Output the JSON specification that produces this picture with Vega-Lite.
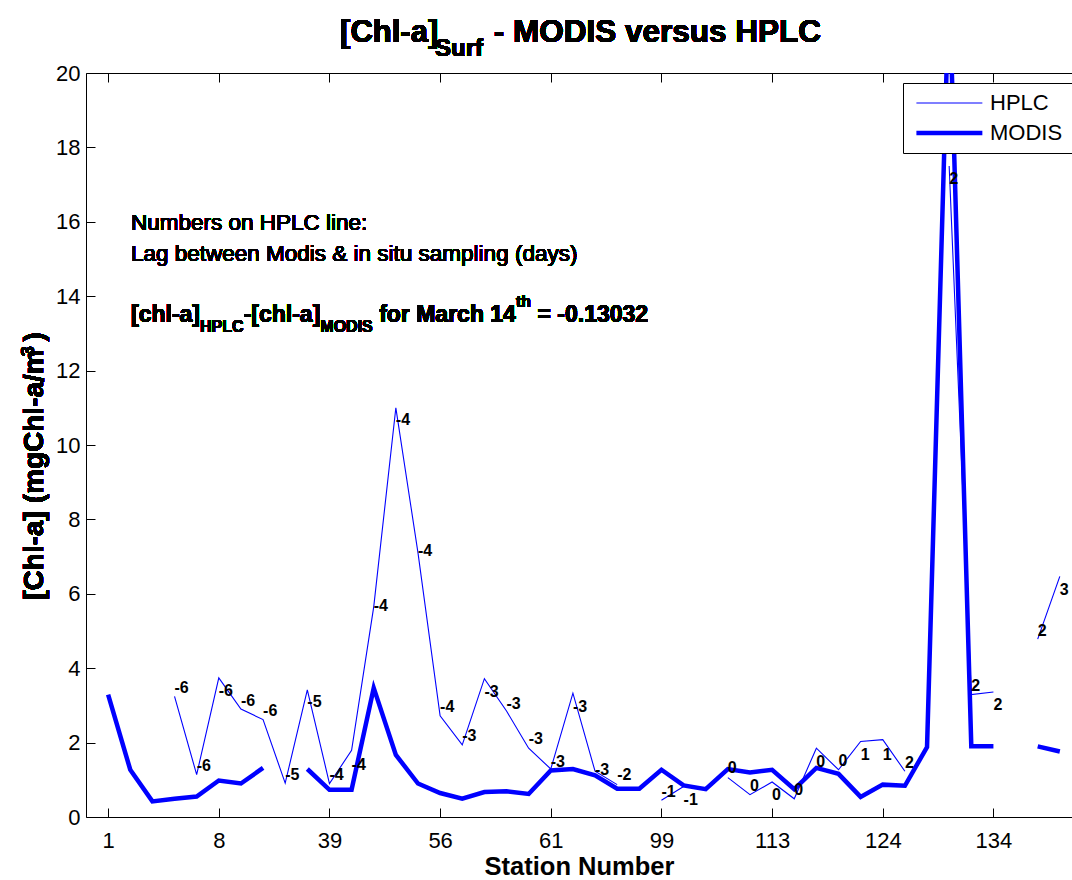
{
  "$schema": "https://vega.github.io/schema/vega-lite/v6.json",
  "width": 986,
  "height": 744,
  "autosize": {"type": "none"},
  "padding": {"left": 86, "top": 73, "right": 0, "bottom": 63},
  "background": "white",
  "config": {
    "font": "Liberation Sans",
    "view": {"stroke": null},
    "axis": {"grid": false, "domainColor": "black", "tickColor": "black", "labelColor": "black", "titleColor": "black", "labelFont": "Liberation Sans", "titleFont": "Liberation Sans"}
  },
  "resolve": {"axis": {"x": "independent", "y": "independent"}},
  "data": {
    "values": [
      {"i": 1, "HPLC": null, "MODIS": 3.29, "lag": null, "ly": null},
      {"i": 2, "HPLC": null, "MODIS": 1.27, "lag": null, "ly": null},
      {"i": 3, "HPLC": null, "MODIS": 0.42, "lag": null, "ly": null},
      {"i": 4, "HPLC": 3.24, "MODIS": 0.49, "lag": "-6", "ly": 3.47},
      {"i": 5, "HPLC": 1.14, "MODIS": 0.55, "lag": "-6", "ly": 1.38},
      {"i": 6, "HPLC": 3.74, "MODIS": 0.98, "lag": "-6", "ly": 3.38},
      {"i": 7, "HPLC": 2.90, "MODIS": 0.90, "lag": "-6", "ly": 3.13},
      {"i": 8, "HPLC": 2.62, "MODIS": 1.32, "lag": "-6", "ly": 2.86},
      {"i": 9, "HPLC": 0.91, "MODIS": null, "lag": "-5", "ly": 1.14},
      {"i": 10, "HPLC": 3.42, "MODIS": 1.29, "lag": "-5", "ly": 3.08},
      {"i": 11, "HPLC": 0.90, "MODIS": 0.73, "lag": "-4", "ly": 1.12},
      {"i": 12, "HPLC": 1.79, "MODIS": 0.73, "lag": "-4", "ly": 1.41},
      {"i": 13, "HPLC": 5.65, "MODIS": 3.47, "lag": "-4", "ly": 5.66},
      {"i": 14, "HPLC": 11.0, "MODIS": 1.67, "lag": "-4", "ly": 10.66},
      {"i": 15, "HPLC": 7.1, "MODIS": 0.90, "lag": "-4", "ly": 7.14},
      {"i": 16, "HPLC": 2.72, "MODIS": 0.645, "lag": "-4", "ly": 2.96},
      {"i": 17, "HPLC": 1.94, "MODIS": 0.49, "lag": "-3", "ly": 2.17},
      {"i": 18, "HPLC": 3.72, "MODIS": 0.67, "lag": "-3", "ly": 3.36},
      {"i": 19, "HPLC": 2.85, "MODIS": 0.69, "lag": "-3", "ly": 3.05},
      {"i": 20, "HPLC": 1.85, "MODIS": 0.62, "lag": "-3", "ly": 2.10},
      {"i": 21, "HPLC": 1.29, "MODIS": 1.25, "lag": "-3", "ly": 1.48},
      {"i": 22, "HPLC": 3.33, "MODIS": 1.29, "lag": "-3", "ly": 2.97},
      {"i": 23, "HPLC": 1.23, "MODIS": 1.12, "lag": "-3", "ly": 1.27},
      {"i": 24, "HPLC": 0.87, "MODIS": 0.76, "lag": "-2", "ly": 1.12},
      {"i": 25, "HPLC": null, "MODIS": 0.76, "lag": null, "ly": null},
      {"i": 26, "HPLC": 0.45, "MODIS": 1.27, "lag": "-1", "ly": 0.67},
      {"i": 27, "HPLC": 0.82, "MODIS": 0.85, "lag": "-1", "ly": 0.45},
      {"i": 28, "HPLC": null, "MODIS": 0.75, "lag": null, "ly": null},
      {"i": 29, "HPLC": 1.06, "MODIS": 1.29, "lag": "0", "ly": 1.32},
      {"i": 30, "HPLC": 0.60, "MODIS": 1.20, "lag": "0", "ly": 0.82},
      {"i": 31, "HPLC": 0.94, "MODIS": 1.27, "lag": "0", "ly": 0.58},
      {"i": 32, "HPLC": 0.49, "MODIS": 0.75, "lag": "0", "ly": 0.72},
      {"i": 33, "HPLC": 1.85, "MODIS": 1.32, "lag": "0", "ly": 1.48},
      {"i": 34, "HPLC": 1.27, "MODIS": 1.16, "lag": "0", "ly": 1.51},
      {"i": 35, "HPLC": 2.03, "MODIS": 0.54, "lag": "1", "ly": 1.66},
      {"i": 36, "HPLC": 2.08, "MODIS": 0.87, "lag": "1", "ly": 1.67},
      {"i": 37, "HPLC": 1.23, "MODIS": 0.84, "lag": "2", "ly": 1.45},
      {"i": 38, "HPLC": null, "MODIS": 1.88, "lag": null, "ly": null},
      {"i": 39, "HPLC": 17.5, "MODIS": 22.5, "lag": "2", "ly": 17.16},
      {"i": 40, "HPLC": 3.29, "MODIS": 1.90, "lag": "2", "ly": 3.53},
      {"i": 41, "HPLC": 3.36, "MODIS": 1.90, "lag": "2", "ly": 3.0},
      {"i": 42, "HPLC": null, "MODIS": null, "lag": null, "ly": null},
      {"i": 43, "HPLC": 4.78, "MODIS": 1.90, "lag": "2", "ly": 5.01},
      {"i": 44, "HPLC": 6.47, "MODIS": 1.76, "lag": "3", "ly": 6.11}
    ]
  },
  "layer": [
    {
      "transform": [{"fold": ["HPLC", "MODIS"], "as": ["series", "value"]}],
      "mark": {"type": "line", "color": "#0000ff", "clip": true},
      "encoding": {
        "x": {
          "field": "i", "type": "quantitative",
          "scale": {"domain": [0, 44.55], "nice": false, "zero": false},
          "axis": {
            "orient": "bottom", "values": [1, 6, 11, 16, 21, 26, 31, 36, 41],
            "labelExpr": "['1','8','39','56','61','99','113','124','134'][(datum.value-1)/5]",
            "tickSize": -9, "labelPadding": 22, "labelFontSize": 22, "labelFlush": false,
            "title": "Station Number", "titleFontSize": 25.5, "titleFontWeight": "bold", "titlePadding": 3
          }
        },
        "y": {
          "field": "value", "type": "quantitative",
          "scale": {"domain": [0, 20], "nice": false},
          "axis": {
            "orient": "left", "values": [0, 2, 4, 6, 8, 10, 12, 14, 16, 18, 20],
            "tickSize": -9, "labelPadding": 15, "labelFontSize": 22, "labelFlush": false, "title": null
          }
        },
        "strokeWidth": {
          "field": "series", "type": "nominal",
          "scale": {"domain": ["HPLC", "MODIS"], "range": [1.1, 4.5]},
          "legend": {
            "orient": "none", "legendX": 817, "legendY": 10, "title": null,
            "strokeColor": "black", "fillColor": "white", "padding": 9,
            "symbolType": "M-1,0H9", "symbolSize": 174, "symbolStrokeColor": "#0000ff",
            "labelFontSize": 22, "labelFont": "Liberation Sans", "labelColor": "black",
            "labelOffset": 56, "rowPadding": 8
          }
        }
      }
    },
    {
      "transform": [{"filter": "datum.lag != null"}],
      "mark": {"type": "text", "align": "left", "baseline": "middle", "fontSize": 16, "fontWeight": "bold", "color": "black"},
      "encoding": {
        "x": {"field": "i", "type": "quantitative",
          "axis": {"orient": "top", "values": [1, 6, 11, 16, 21, 26, 31, 36, 41], "labels": false, "tickSize": -9, "title": null}},
        "y": {"field": "ly", "type": "quantitative", "axis": null},
        "text": {"field": "lag"}
      }
    },
    {"mark": {"type": "text", "text": "[Chl-a]", "align": "left", "baseline": "alphabetic", "fontSize": 31, "fontWeight": "bold", "color": "black"},
     "encoding": {"x": {"datum": 11.48, "axis": null}, "y": {"datum": 20.84, "axis": null}}},
    {"mark": {"type": "text", "text": "Surf", "align": "left", "baseline": "alphabetic", "fontSize": 24, "fontWeight": "bold", "color": "black"},
     "encoding": {"x": {"datum": 15.77, "axis": null}, "y": {"datum": 20.47, "axis": null}}},
    {"mark": {"type": "text", "text": "- MODIS versus HPLC", "align": "left", "baseline": "alphabetic", "fontSize": 31.5, "fontWeight": "bold", "color": "black"},
     "encoding": {"x": {"datum": 18.42, "axis": null}, "y": {"datum": 20.84, "axis": null}}},
    {"mark": {"type": "text", "text": "Numbers on HPLC line:", "align": "left", "baseline": "alphabetic", "fontSize": 22.5, "color": "black"},
     "encoding": {"x": {"datum": 2.03, "axis": null}, "y": {"datum": 15.78, "axis": null}}},
    {"mark": {"type": "text", "text": "Lag between Modis & in situ sampling (days)", "align": "left", "baseline": "alphabetic", "fontSize": 22.5, "color": "black"},
     "encoding": {"x": {"datum": 2.03, "axis": null}, "y": {"datum": 14.95, "axis": null}}},
    {"mark": {"type": "text", "text": "[chl-a]", "align": "left", "baseline": "alphabetic", "fontSize": 23, "fontWeight": "bold", "color": "black"},
     "encoding": {"x": {"datum": 2.033, "axis": null}, "y": {"datum": 13.31, "axis": null}}},
    {"mark": {"type": "text", "text": "HPLC", "align": "left", "baseline": "alphabetic", "fontSize": 16, "fontWeight": "bold", "color": "black"},
     "encoding": {"x": {"datum": 5.151, "axis": null}, "y": {"datum": 13.05, "axis": null}}},
    {"mark": {"type": "text", "text": "-[chl-a]", "align": "left", "baseline": "alphabetic", "fontSize": 23, "fontWeight": "bold", "color": "black"},
     "encoding": {"x": {"datum": 7.122, "axis": null}, "y": {"datum": 13.31, "axis": null}}},
    {"mark": {"type": "text", "text": "MODIS", "align": "left", "baseline": "alphabetic", "fontSize": 16, "fontWeight": "bold", "color": "black"},
     "encoding": {"x": {"datum": 10.587, "axis": null}, "y": {"datum": 13.05, "axis": null}}},
    {"mark": {"type": "text", "text": "for March 14", "align": "left", "baseline": "alphabetic", "fontSize": 23, "fontWeight": "bold", "color": "black"},
     "encoding": {"x": {"datum": 13.245, "axis": null}, "y": {"datum": 13.31, "axis": null}}},
    {"mark": {"type": "text", "text": "th", "align": "left", "baseline": "alphabetic", "fontSize": 16, "fontWeight": "bold", "color": "black"},
     "encoding": {"x": {"datum": 19.426, "axis": null}, "y": {"datum": 13.72, "axis": null}}},
    {"mark": {"type": "text", "text": "= -0.13032", "align": "left", "baseline": "alphabetic", "fontSize": 23, "fontWeight": "bold", "color": "black"},
     "encoding": {"x": {"datum": 20.4, "axis": null}, "y": {"datum": 13.31, "axis": null}}},
    {"mark": {"type": "text", "text": "[Chl-a] (mgChl-a/m", "angle": 270, "align": "left", "baseline": "alphabetic", "fontSize": 28, "fontWeight": "bold", "color": "black"},
     "encoding": {"x": {"datum": -1.94, "axis": null}, "y": {"datum": 5.84, "axis": null}}},
    {"mark": {"type": "text", "text": "3", "angle": 270, "align": "left", "baseline": "alphabetic", "fontSize": 19, "fontWeight": "bold", "color": "black"},
     "encoding": {"x": {"datum": -2.36, "axis": null}, "y": {"datum": 12.38, "axis": null}}},
    {"mark": {"type": "text", "text": ")", "angle": 270, "align": "left", "baseline": "alphabetic", "fontSize": 28, "fontWeight": "bold", "color": "black"},
     "encoding": {"x": {"datum": -1.94, "axis": null}, "y": {"datum": 12.78, "axis": null}}}
  ]
}
